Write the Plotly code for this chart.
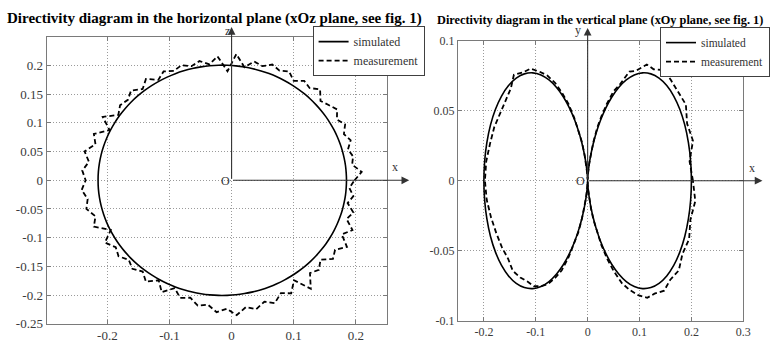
import numpy as np
import plotly.graph_objects as go

W, H = 778, 350
SERIF = "Liberation Serif"

# ---------------- data (radius per 4-degree step, 0..360) ----------------
h_sim_r = [0.185,0.185,0.1852,0.1853,0.1856,0.1859,0.1863,0.1868,0.1873,0.1879,0.1885,0.1892,0.19,0.1908,0.1916,
           0.1925,0.1934,0.1944,0.1954,0.1964,0.1974,0.1984,0.1995,0.2005,0.2016,0.2026,0.2036,0.2046,0.2056,0.2066,
           0.2075,0.2084,0.2092,0.21,0.2108,0.2115,0.2121,0.2127,0.2132,0.2137,0.2141,0.2144,0.2147,0.2149,0.215,0.215,
           0.215,0.2149,0.2147,0.2144,0.2141,0.2137,0.2132,0.2127,0.2121,0.2115,0.2108,0.21,0.2092,0.2084,0.2075,
           0.2066,0.2056,0.2046,0.2036,0.2026,0.2016,0.2005,0.1995,0.1984,0.1974,0.1964,0.1954,0.1944,0.1934,0.1925,
           0.1916,0.1908,0.19,0.1892,0.1885,0.1879,0.1873,0.1868,0.1863,0.1859,0.1856,0.1853,0.1852,0.185,0.185]

h_meas_r = [0.198,0.21,0.196,0.2,0.195,0.204,0.198,0.207,0.2,0.21,0.204,0.199,0.213,0.204,0.209,0.2,0.211,0.206,
            0.212,0.205,0.21,0.198,0.22,0.19,0.217,0.205,0.214,0.209,0.216,0.212,0.219,0.211,0.224,0.214,0.225,
            0.218,0.222,0.215,0.235,0.215,0.236,0.228,0.242,0.232,0.241,0.235,0.242,0.234,0.239,0.228,0.236,0.213,
            0.231,0.22,0.225,0.216,0.222,0.214,0.224,0.21,0.225,0.209,0.221,0.215,0.225,0.22,0.231,0.224,0.235,
            0.222,0.228,0.218,0.225,0.212,0.219,0.201,0.228,0.205,0.21,0.199,0.213,0.206,0.219,0.201,0.213,0.197,
            0.204,0.191,0.198,0.19,0.198]

v_sim_r = [0.2,0.199,0.1961,0.1914,0.1848,0.1766,0.1669,0.1559,0.1438,0.1309,0.1174,0.1035,0.0895,0.0758,0.0625,
           0.05,0.0384,0.0281,0.0191,0.0117,0.006,0.0022,0.0002,
           0.0002,0.0022,0.006,0.0117,0.0191,0.0281,0.0384,0.05,0.0625,0.0758,0.0895,0.1035,0.1174,0.1309,0.1438,
           0.1559,0.1669,0.1766,0.1848,0.1914,0.1961,0.199,0.2,
           0.199,0.1961,0.1914,0.1848,0.1766,0.1669,0.1559,0.1438,0.1309,0.1174,0.1035,0.0895,0.0758,0.0625,
           0.05,0.0384,0.0281,0.0191,0.0117,0.006,0.0022,0.0002,
           0.0002,0.0022,0.006,0.0117,0.0191,0.0281,0.0384,0.05,0.0625,0.0758,0.0895,0.1035,0.1174,0.1309,0.1438,
           0.1559,0.1669,0.1766,0.1848,0.1914,0.1961,0.199,0.2]

v_meas_r = [0.203,0.197,0.205,0.196,0.197,0.186,0.176,0.168,0.15,0.141,0.122,0.112,0.092,0.081,0.066,0.053,0.042,
            0.03,0.021,0.013,0.007,0.003,0.001,
            0.001,0.003,0.006,0.013,0.02,0.03,0.04,0.052,0.066,0.079,0.094,0.108,0.121,0.136,0.146,0.161,0.162,
            0.168,0.176,0.184,0.19,0.196,0.198,
            0.195,0.188,0.18,0.172,0.163,0.158,0.147,0.136,0.128,0.117,0.106,0.093,0.081,0.066,0.052,0.041,0.029,
            0.02,0.012,0.006,0.002,0.0005,
            0.0005,0.003,0.007,0.013,0.021,0.03,0.04,0.053,0.067,0.082,0.098,0.112,0.127,0.142,0.152,0.167,0.174,
            0.187,0.19,0.2,0.2,0.208,0.203]

h_xticks = [-0.2, -0.1, 0, 0.1, 0.2]
h_yticks = [-0.25, -0.2, -0.15, -0.1, -0.05, 0, 0.05, 0.1, 0.15, 0.2]
h_ytext = ["-0.25", "-0.2", "-0.15", "-0.1", "-0.05", "0", "0.05", "0.1", "0.15", "0.2"]
v_xticks = [-0.2, -0.1, 0, 0.1, 0.2, 0.3]
v_yticks = [-0.1, -0.05, 0, 0.05, 0.1]
v_ytext = ["-0.1", "-0.05", "0", "0.05", "0.1"]


def polar_xy(r):
    r = np.asarray(r, dtype=float)
    th = np.deg2rad(np.arange(len(r)) * 4.0)
    return r * np.cos(th), r * np.sin(th)


fig = go.Figure()

hx, hy = polar_xy(h_sim_r)
fig.add_trace(go.Scatter(x=hx, y=hy, mode="lines", name="simulated", line=dict(color="black", width=1.6, shape="spline"),
                         xaxis="x", yaxis="y", legend="legend"))
hx, hy = polar_xy(h_meas_r)
fig.add_trace(go.Scatter(x=hx, y=hy, mode="lines", name="measurement", line=dict(color="black", width=1.8, dash="5px,3px"),
                         xaxis="x", yaxis="y", legend="legend"))
vx, vy = polar_xy(v_sim_r)
fig.add_trace(go.Scatter(x=vx, y=vy, mode="lines", name="simulated", line=dict(color="black", width=1.6, shape="spline"),
                         xaxis="x2", yaxis="y2", legend="legend2"))
vx, vy = polar_xy(v_meas_r)
fig.add_trace(go.Scatter(x=vx, y=vy, mode="lines", name="measurement", line=dict(color="black", width=1.8, dash="5px,3px"),
                         xaxis="x2", yaxis="y2", legend="legend2"))


def px_x(p):
    return p / W


def px_y(p):
    return 1 - p / H


tickfont = dict(family=SERIF, size=13, color="#3a3a3a")
axis_common = dict(showgrid=True, gridcolor="#9a9a9a", griddash="1px,2px", gridwidth=1, zeroline=False,
                   showline=True, linecolor="#7a7a7a", linewidth=1, mirror="ticks", ticks="inside",
                   ticklen=4, tickcolor="#7a7a7a", tickfont=tickfont, fixedrange=True)
tickfont2 = dict(family=SERIF, size=12, color="#3a3a3a")

fig.update_layout(
    width=W, height=H, margin=dict(l=0, r=0, t=0, b=0),
    paper_bgcolor="white", plot_bgcolor="white",
    xaxis=dict(domain=[px_x(47), px_x(391.5)], range=[-0.298, 0.251], tickvals=h_xticks,
               ticktext=[str(v) for v in h_xticks], anchor="y", **axis_common),
    yaxis=dict(domain=[px_y(331), px_y(31.7)], range=[-0.25, 0.249], tickvals=h_yticks, ticktext=h_ytext,
               anchor="x", **axis_common),
    xaxis2=dict(domain=[px_x(462.7), px_x(751)], range=[-0.25, 0.3], tickvals=v_xticks,
                ticktext=[str(v) for v in v_xticks], anchor="y2", **{**axis_common, "tickfont": tickfont2}),
    yaxis2=dict(domain=[px_y(328), px_y(35)], range=[-0.1, 0.1], tickvals=v_yticks, ticktext=v_ytext,
                anchor="x2", **{**axis_common, "tickfont": tickfont2}),
    legend=dict(x=px_x(429), y=px_y(20), xanchor="right", yanchor="top", bgcolor="white",
                bordercolor="#404040", borderwidth=1, itemwidth=30, tracegroupgap=0,
                font=dict(family=SERIF, size=12, color="#333")),
    legend2=dict(x=px_x(778), y=px_y(21), xanchor="right", yanchor="top", bgcolor="white",
                 bordercolor="#404040", borderwidth=1, itemwidth=30, tracegroupgap=0,
                 font=dict(family=SERIF, size=11.5, color="#333")),
    showlegend=True,
)

ann = []
arrow_style = dict(text="", showarrow=True, arrowhead=2, arrowsize=1.4, arrowwidth=1.1, arrowcolor="#333",
                   standoff=0, startstandoff=0)
# left plot axis arrows
ann.append(dict(x=0.286, y=0, ax=0, ay=0, xref="x", yref="y", axref="x", ayref="y", **arrow_style))
ann.append(dict(x=0, y=0.267, ax=0, ay=0, xref="x", yref="y", axref="x", ayref="y", **arrow_style))
# right plot axis arrows
ann.append(dict(x=0.337, y=0, ax=0, ay=0, xref="x2", yref="y2", axref="x2", ayref="y2", **arrow_style))
ann.append(dict(x=0, y=0.109, ax=0, ay=0, xref="x2", yref="y2", axref="x2", ayref="y2", **arrow_style))

lab_font = dict(family=SERIF, size=12, color="#333")
for txt, xp, yp in [("x", 399, 167), ("z", 230, 25), ("O", 228, 182), ("x", 760, 168), ("y", 584, 24), ("O", 587, 182)]:
    ann.append(dict(text=txt, x=px_x(xp), y=px_y(yp), xref="paper", yref="paper", showarrow=False,
                    xanchor="center", yanchor="middle", font=lab_font))

ann.append(dict(text="<b>Directivity diagram in the horizontal plane (xOz plane, see fig. 1)</b>",
                x=px_x(217), y=px_y(12), xref="paper", yref="paper", showarrow=False,
                xanchor="center", yanchor="middle", font=dict(family=SERIF, size=15, color="black")))
ann.append(dict(text="<b>Directivity diagram in the vertical plane (xOy plane, see fig. 1)</b>",
                x=px_x(606), y=px_y(14), xref="paper", yref="paper", showarrow=False,
                xanchor="center", yanchor="middle", font=dict(family=SERIF, size=12.3, color="black")))

fig.update_layout(annotations=ann)
fig.write_html("out.html", config={"displayModeBar": False},
               post_script="document.body.style.margin='0';document.body.style.overflow='hidden';")
